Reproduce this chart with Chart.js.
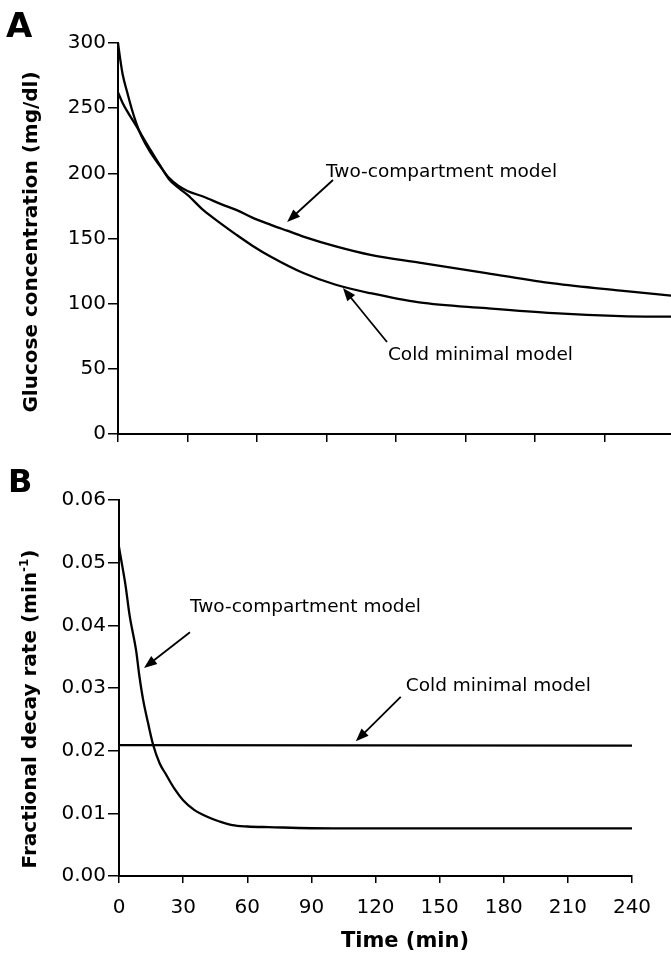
<!DOCTYPE html>
<html><head><meta charset="utf-8">
<script src="https://cdn.jsdelivr.net/npm/chart.js@4.4.1/dist/chart.umd.min.js"></script>
<style>
html,body{margin:0;padding:0;background:#fff;width:671px;height:954px;overflow:hidden}
canvas{position:absolute;left:0}
#cA{top:0}
#cB{top:450px}
</style></head><body>
<canvas id="cA" width="671" height="450"></canvas>
<canvas id="cB" width="671" height="504"></canvas>
<script>
// ---- Panel A: glucose concentration (mg/dl) vs time (min)
const timeA_two = [0,1,2,4,6,8,10,14,18,22,26,30,37,45,51,58,66,73,80,94,109,130,159,188,217,240];
const glucoseA_two = [300,287,276,262,249,238,229,216,206,196.5,190.5,186.5,182,176,172,166,160.5,156,151.5,144,137.5,131.5,123.5,115.5,110,106];
const timeA_cold = [0,2,4,8,10,14,18,22,26,30,37,44,51,58,66,80,94,109,130,159,188,217,240];
const glucoseA_cold = [262,254,247.5,236,230,218,206.5,195.5,189,183.5,171.5,162,153,144.5,136,123.5,114.5,108,101,96.5,92.7,90.5,90];
const xTicksA = [0,30,60,90,120,150,180,210];
const xMaxA = 238.7;
const yTicksA = [0,50,100,150,200,250,300];
const yLabelsA = ['0','50','100','150','200','250','300'];

// ---- Panel B: fractional decay rate (min^-1) vs time (min)
const timeB_two = [0,1,3,5,8,9.5,11.3,13.6,16,19,22,26,30,35,41,47,53,60,70,100,150,240];
const rateB_two = [0.0525,0.0505,0.0465,0.0415,0.036,0.032,0.0281,0.0244,0.0209,0.018,0.0162,0.0139,0.0121,0.0106,0.0095,0.0087,0.0081,0.0079,0.0078,0.0076,0.0076,0.0076];
const timeB_cold = [0,240];
const rateB_cold = [0.0209,0.0208];
const xTicksB = [0,30,60,90,120,150,180,210,240];
const xLabelsB = ['0','30','60','90','120','150','180','210','240'];
const yTicksB = [0,0.01,0.02,0.03,0.04,0.05,0.06];
const yLabelsB = ['0.00','0.01','0.02','0.03','0.04','0.05','0.06'];

// annotations (data units): label position + arrow from/to
const notesA = [
  {text:'Two-compartment model', tx:89.8, ty:201, fx:92.8, fy:194.9, ex:73.0, ey:162.7},
  {text:'Cold minimal model', tx:116.5, ty:60.6, fx:116.1, fy:70.6, ex:97.1, ey:112.0}
];
const notesB = [
  {text:'Two-compartment model', tx:33.2, ty:0.0429, fx:33.2, fy:0.0389, ex:11.7, ey:0.0332},
  {text:'Cold minimal model', tx:134.2, ty:0.0303, fx:131.8, fy:0.0286, ex:110.8, ey:0.0215}
];

const TICK_FONT = {family:'DejaVu Sans', size:20};

function pts(xs, ys){ return xs.map((x,i)=>({x:x, y:ys[i]})); }

function drawArrow(ctx, x0, y0, x1, y1){
  const a = Math.atan2(y1-y0, x1-x0), L = 13, W = 5;
  ctx.save();
  ctx.strokeStyle = '#000'; ctx.fillStyle = '#000'; ctx.lineWidth = 1.8;
  ctx.beginPath(); ctx.moveTo(x0,y0); ctx.lineTo(x1 - (L-2)*Math.cos(a), y1 - (L-2)*Math.sin(a)); ctx.stroke();
  ctx.beginPath();
  ctx.moveTo(x1,y1);
  ctx.lineTo(x1 - L*Math.cos(a) + W*Math.sin(a), y1 - L*Math.sin(a) - W*Math.cos(a));
  ctx.lineTo(x1 - L*Math.cos(a) - W*Math.sin(a), y1 - L*Math.sin(a) + W*Math.cos(a));
  ctx.closePath(); ctx.fill();
  ctx.restore();
}

function notesPlugin(notes, extra){
  return {
    id:'notes',
    afterDraw(chart){
      const ctx = chart.ctx, sx = chart.scales.x, sy = chart.scales.y;
      ctx.save();
      ctx.fillStyle = '#000';
      ctx.font = '18.5px "DejaVu Sans"';
      ctx.textAlign = 'left'; ctx.textBaseline = 'middle';
      notes.forEach(n=>{
        ctx.fillText(n.text, sx.getPixelForValue(n.tx), sy.getPixelForValue(n.ty));
        drawArrow(ctx, sx.getPixelForValue(n.fx), sy.getPixelForValue(n.fy), sx.getPixelForValue(n.ex), sy.getPixelForValue(n.ey));
      });
      ctx.restore();
      extra(ctx, chart);
    }
  };
}

function baseScales(xTicks, xMax, xLabels, yTicks, yMax, yLabels, yWidth, xHeight, showXLabels, xTickLen, yTickLen, xPad){
  return {
    x:{
      type:'linear', min:0, max:xMax,
      afterBuildTicks(s){ s.ticks = xTicks.map(v=>({value:v})); },
      afterFit(s){ s.height = xHeight; },
      grid:{drawOnChartArea:false, drawTicks:true, tickLength:xTickLen, color:'#000', lineWidth:1.5},
      border:{display:true, color:'#000', width:2},
      ticks:{display:showXLabels, color:'#000', font:TICK_FONT, padding:xPad, maxRotation:0, autoSkip:false,
        callback:(v,i)=> xLabels ? xLabels[i] : ''}
    },
    y:{
      type:'linear', min:0, max:yMax,
      afterBuildTicks(s){ s.ticks = yTicks.map(v=>({value:v})); },
      afterFit(s){ s.width = yWidth; },
      grid:{drawOnChartArea:false, drawTicks:true, tickLength:yTickLen, color:'#000', lineWidth:1.5},
      border:{display:true, color:'#000', width:2},
      ticks:{color:'#000', font:TICK_FONT, padding:2, autoSkip:false, callback:(v,i)=> yLabels[i]}
    }
  };
}

const lineStyle = {borderColor:'#000', borderWidth:2.3, pointRadius:0, fill:false, cubicInterpolationMode:'monotone'};

// ---- Chart A
new Chart(document.getElementById('cA'), {
  type:'line',
  data:{datasets:[
    Object.assign({label:'Two-compartment model', data:pts(timeA_two, glucoseA_two)}, lineStyle),
    Object.assign({label:'Cold minimal model', data:pts(timeA_cold, glucoseA_cold)}, lineStyle)
  ]},
  options:{
    responsive:false, animation:false, devicePixelRatio:1,
    layout:{padding:{top:43, left:0, right:0, bottom:0}},
    plugins:{legend:{display:false}, tooltip:{enabled:false}},
    scales: baseScales(xTicksA, xMaxA, null, yTicksA, 300, yLabelsA, 118, 16, false, 8, 10, 0)
  },
  plugins:[notesPlugin(notesA, (ctx)=>{
    ctx.save(); ctx.fillStyle = '#000';
    ctx.font = 'bold 34px "DejaVu Sans"'; ctx.textAlign = 'left'; ctx.textBaseline = 'alphabetic';
    ctx.fillText('A', 6, 37);
    ctx.translate(32, 242); ctx.rotate(-Math.PI/2);
    ctx.font = 'bold 20px "DejaVu Sans"'; ctx.textAlign = 'center'; ctx.textBaseline = 'middle';
    ctx.fillText('Glucose concentration (mg/dl)', 0, 0);
    ctx.restore();
  })]
});

// ---- Chart B
new Chart(document.getElementById('cB'), {
  type:'line',
  data:{datasets:[
    Object.assign({label:'Two-compartment model', data:pts(timeB_two, rateB_two)}, lineStyle),
    Object.assign({label:'Cold minimal model', data:pts(timeB_cold, rateB_cold), cubicInterpolationMode:'default', tension:0}, lineStyle)
  ]},
  options:{
    responsive:false, animation:false, devicePixelRatio:1,
    layout:{padding:{top:50, left:0, right:39, bottom:0}},
    plugins:{legend:{display:false}, tooltip:{enabled:false}},
    scales: baseScales(xTicksB, 240, xLabelsB, yTicksB, 0.06, yLabelsB, 119, 78, true, 7, 11, 13)
  },
  plugins:[notesPlugin(notesB, (ctx, chart)=>{
    ctx.save(); ctx.fillStyle = '#000';
    ctx.font = 'bold 32px "DejaVu Sans"'; ctx.textAlign = 'left'; ctx.textBaseline = 'alphabetic';
    ctx.fillText('B', 8, 42);
    // x title
    ctx.font = 'bold 21px "DejaVu Sans"'; ctx.textAlign = 'center'; ctx.textBaseline = 'middle';
    ctx.fillText('Time (min)', 405, 492);
    // y title with superscript
    ctx.translate(31, 259); ctx.rotate(-Math.PI/2);
    const main = 'Fractional decay rate (min', sup = '-1', close = ')';
    const fMain = 'bold 20px "DejaVu Sans"', fSup = 'bold 12px "DejaVu Sans"';
    ctx.font = fMain; const w1 = ctx.measureText(main).width, w3 = ctx.measureText(close).width;
    ctx.font = fSup; const w2 = ctx.measureText(sup).width;
    let x = -(w1+w2+w3)/2;
    ctx.textAlign = 'left'; ctx.textBaseline = 'middle';
    ctx.font = fMain; ctx.fillText(main, x, 0); x += w1;
    ctx.font = fSup; ctx.fillText(sup, x, -6); x += w2;
    ctx.font = fMain; ctx.fillText(close, x, 0);
    ctx.restore();
  })]
});
</script>
</body></html>
